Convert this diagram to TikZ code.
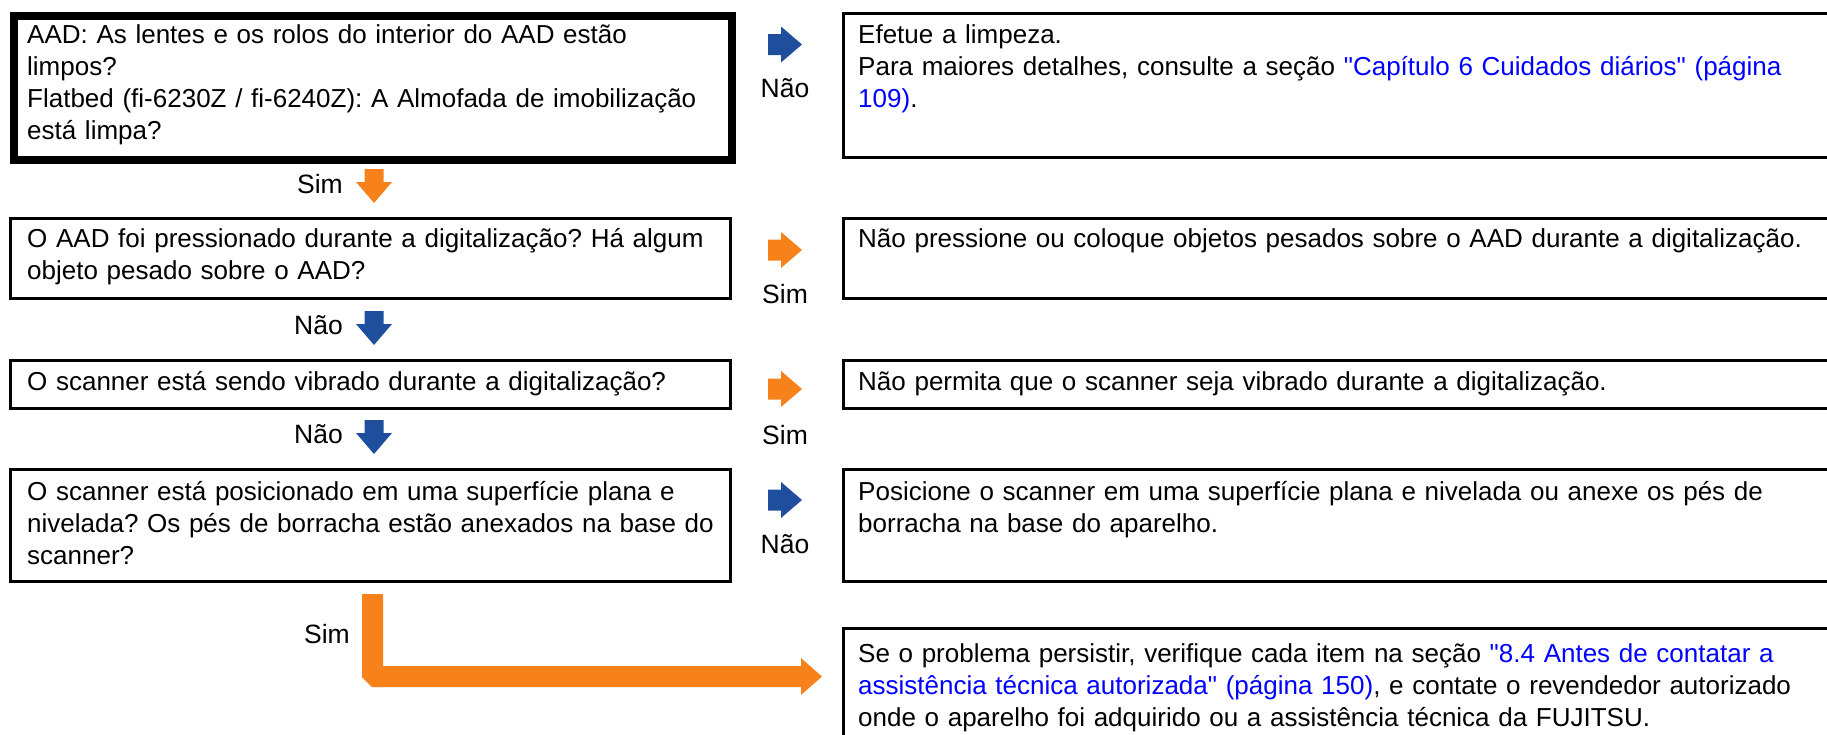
\documentclass[tikz,border=0pt]{standalone}
\usepackage{fontspec}
\setmainfont{Liberation Sans}[Ligatures=TeXOff]
\definecolor{orangeA}{HTML}{F7821B}
\definecolor{blueA}{HTML}{1F4F9C}
\definecolor{linkblue}{HTML}{0000FF}
\frenchspacing
\begin{document}
\begin{tikzpicture}[x=1pt,y=-1pt,
  box/.style={draw, line width=2.6pt, inner sep=0pt, anchor=north west},
  thickbox/.style={box, line width=8pt},
  txt/.style={anchor=north west, inner sep=0pt, align=left, text width=1100pt, font=\fontsize{26}{32.2}\selectfont\frenchspacing},
  lbl/.style={inner sep=0pt, font=\fontsize{26.5}{32.2}\selectfont},
  rarr/.pic={\fill (0,-10.5) -- (13,-10.5) -- (13,-18) -- (34,0) -- (13,18) -- (13,10.5) -- (0,10.5) -- cycle;},
  darr/.pic={\fill (-9.5,0) -- (9.5,0) -- (9.5,13) -- (18,13) -- (0,34) -- (-18,13) -- (-9.5,13) -- cycle;},
]
\useasboundingbox (0,0) rectangle (1827,734);

% left question boxes
\node[thickbox, minimum width=718pt, minimum height=144pt] (q1) at (10,12) {};
\node[box, minimum width=720pt, minimum height=80pt] (q2) at (9,217) {};
\node[box, minimum width=720pt, minimum height=48pt] (q3) at (9,359) {};
\node[box, minimum width=720pt, minimum height=112pt] (q4) at (9,468) {};

% right answer boxes (right edge runs past the page)
\node[box, minimum width=993pt, minimum height=144pt] (a1) at (842,12) {};
\node[box, minimum width=993pt, minimum height=80pt] (a2) at (842,217) {};
\node[box, minimum width=993pt, minimum height=48pt] (a3) at (842,359) {};
\node[box, minimum width=993pt, minimum height=112pt] (a4) at (842,468) {};
\node[box, minimum width=993pt, minimum height=130pt] (a5) at (842,627) {};

% texts
\node[txt] (q1t) at (27,19) {\rule{0pt}{24pt}AAD: As lentes e os rolos do interior do AAD estão\\limpos?\\Flatbed (fi-6230Z / fi-6240Z): A Almofada de imobilização\\está limpa?};
\node[txt] (q2t) at (27,223) {\rule{0pt}{24pt}O AAD foi pressionado durante a digitalização? Há algum\\objeto pesado sobre o AAD?};
\node[txt] (q3t) at (27,366) {\rule{0pt}{24pt}O scanner está sendo vibrado durante a digitalização?};
\node[txt] (q4t) at (27,476) {\rule{0pt}{24pt}O scanner está posicionado em uma superfície plana e\\nivelada? Os pés de borracha estão anexados na base do\\scanner?};

\node[txt] (a1t) at (858,19) {\rule{0pt}{24pt}Efetue a limpeza.\\Para maiores detalhes, consulte a seção \color{linkblue}"Capítulo 6 Cuidados diários" (página\\109)\color{black}.};
\node[txt] (a2t) at (858,223) {\rule{0pt}{24pt}Não pressione ou coloque objetos pesados sobre o AAD durante a digitalização.};
\node[txt] (a3t) at (858,366) {\rule{0pt}{24pt}Não permita que o scanner seja vibrado durante a digitalização.};
\node[txt] (a4t) at (858,476) {\rule{0pt}{24pt}Posicione o scanner em uma superfície plana e nivelada ou anexe os pés de\\borracha na base do aparelho.};
\node[txt] (a5t) at (858,638) {\rule{0pt}{24pt}Se o problema persistir, verifique cada item na seção \color{linkblue}"8.4 Antes de contatar a\\assistência técnica autorizada" (página 150)\color{black}, e contate o revendedor autorizado\\onde o aparelho foi adquirido ou a assistência técnica da FUJITSU.};

% down arrows with labels
\pic[fill=orangeA] at (374,169) {darr};
\node[lbl, anchor=base east] (s1) at (343,193) {Sim};
\pic[fill=blueA] at (374,311) {darr};
\node[lbl, anchor=base east] (n1) at (343,334) {Não};
\pic[fill=blueA] at (374,420) {darr};
\node[lbl, anchor=base east] (n2) at (343,443) {Não};

% right arrows with labels
\pic[fill=blueA] at (768,44.5) {rarr};
\node[lbl, anchor=base] (r1) at (785,97) {Não};
\pic[fill=orangeA] at (768,250) {rarr};
\node[lbl, anchor=base] (r2) at (785,303) {Sim};
\pic[fill=orangeA] at (768,389) {rarr};
\node[lbl, anchor=base] (r3) at (785,444) {Sim};
\pic[fill=blueA] at (768,500) {rarr};
\node[lbl, anchor=base] (r4) at (785,553) {Não};

% final L-shaped arrow
\fill[orangeA] (362,594) -- (383,594) -- (383,666) -- (801,666) -- (801,658) -- (822,676.5) -- (801,695) -- (801,687) -- (372,687) -- (362,677) -- cycle;
\node[lbl, anchor=base east] (s4) at (350,643) {Sim};
\end{tikzpicture}
\end{document}
